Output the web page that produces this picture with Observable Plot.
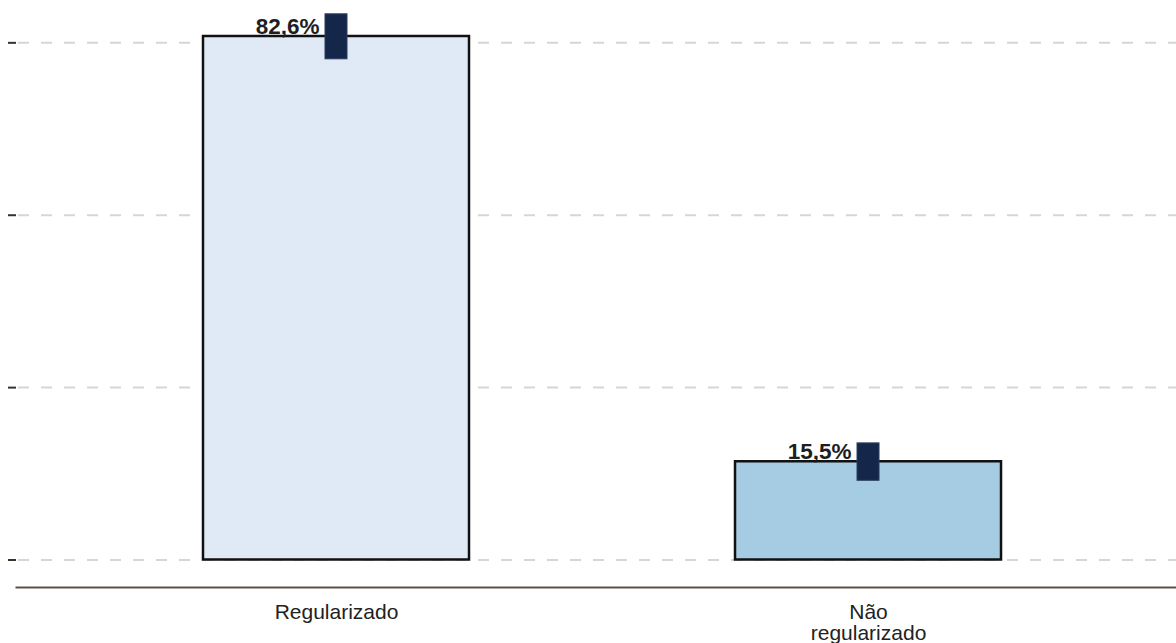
<!DOCTYPE html>
<html>
<head>
<meta charset="utf-8">
<script src="https://cdn.jsdelivr.net/npm/d3@7"></script>
<script src="https://cdn.jsdelivr.net/npm/@observablehq/plot@0.6"></script>
<style>
  html, body { margin: 0; padding: 0; background: #fff; }
  #chart svg { display: block; }
</style>
</head>
<body>
<div id="chart"></div>
<script>
const categories = ["Regularizado", "Não regularizado"];
const axisLabels = ["Regularizado", "Não\nregularizado"];
const values = [82.6, 15.5];
const lower = [79.0, 12.5];
const upper = [86.1, 18.4];
const valueLabels = ["82,6%", "15,5%"];
const fills = ["#dfeaf6", "#a6cce3"];
const gridTicks = [0, 27.2, 54.4, 81.6];

const data = categories.map((c, i) => ({
  cat: c, value: values[i], lo: lower[i], hi: upper[i], label: valueLabels[i], fill: fills[i]
}));

const chart = Plot.plot({
  width: 1176,
  height: 643,
  marginLeft: 16,
  marginRight: 0,
  marginTop: 36,
  marginBottom: 56,
  style: { fontFamily: "'Liberation Sans', Arial, Helvetica, sans-serif", background: "#fff" },
  x: { domain: categories, paddingInner: 0.5, paddingOuter: 0.3402, align: 0.5166, round: false, label: null },
  y: { domain: [0, 82.6], nice: false, insetBottom: 27.5, label: null },
  marks: [
    Plot.gridY(gridTicks, { stroke: "#d6d6d6", strokeOpacity: 1, strokeWidth: 2, strokeDasharray: "11,12", strokeDashoffset: -2 }),
    Plot.axisY(gridTicks, { tickSize: 8, tickFormat: () => "", stroke: "#3a3128", strokeWidth: 2, label: null }),
    Plot.barY(data, { x: "cat", y: "value", fill: "fill", stroke: "#111", strokeWidth: 2.5 }),
    Plot.barY(data, { x: "cat", y1: "lo", y2: "hi", fill: "#14274b", stroke: "#2c3d5e", strokeWidth: 1, insetLeft: 122, insetRight: 122 }),
    Plot.text(data, { x: "cat", y: "value", text: "label", textAnchor: "end", lineAnchor: "bottom", dx: -17, dy: -3, fontSize: 22.5, fontWeight: "bold", fill: "#1e1e1e" }),
    Plot.frame({ anchor: "bottom", stroke: "#5b5045", strokeWidth: 2 }),
    Plot.axisX({ tickSize: 0, tickPadding: 17, fontSize: 21, lineHeight: 1.0, fill: "#222", tickFormat: (d) => axisLabels[categories.indexOf(d)], label: null })
  ]
});
document.getElementById("chart").appendChild(chart);
</script>
</body>
</html>
